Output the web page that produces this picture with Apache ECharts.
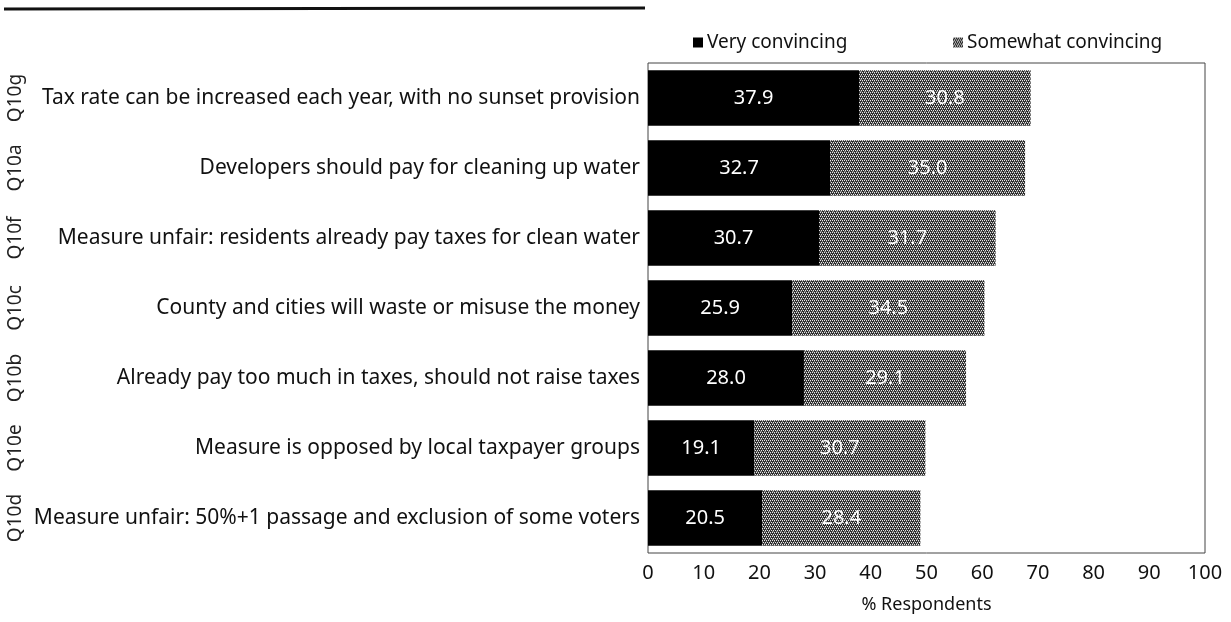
<!DOCTYPE html>
<html>
<head>
<meta charset="utf-8">
<script src="https://cdn.jsdelivr.net/npm/echarts@6/dist/echarts.min.js"></script>
<style>
  html, body { margin: 0; padding: 0; background: #fff; }
  #chart { width: 1231px; height: 622px; }
</style>
</head>
<body>
<div id="chart"></div>
<script>
// Question codes and statement texts, listed top to bottom
const codes = ['Q10g', 'Q10a', 'Q10f', 'Q10c', 'Q10b', 'Q10e', 'Q10d'];
const statements = [
  'Tax rate can be increased each year, with no sunset provision',
  'Developers should pay for cleaning up water',
  'Measure unfair: residents already pay taxes for clean water',
  'County and cities will waste or misuse the money',
  'Already pay too much in taxes, should not raise taxes',
  'Measure is opposed by local taxpayer groups',
  'Measure unfair: 50%+1 passage and exclusion of some voters'
];
const veryConvincing = [37.9, 32.7, 30.7, 25.9, 28.0, 19.1, 20.5];
const somewhatConvincing = [30.8, 35.0, 31.7, 34.5, 29.1, 30.7, 28.4];
const xTicks = [0, 10, 20, 30, 40, 50, 60, 70, 80, 90, 100];

const FONT = '"Noto Sans", "Open Sans", sans-serif';

// Dithered grey fill for the "somewhat" segments
function ditherPattern() {
  const c = document.createElement('canvas');
  c.width = 4; c.height = 4;
  const ctx = c.getContext('2d');
  ctx.fillStyle = '#2e2e2e';
  ctx.fillRect(0, 0, 4, 4);
  ctx.fillStyle = '#e8e8e8';
  ctx.fillRect(0, 0, 1, 1);
  ctx.fillRect(2, 0, 1, 1);
  ctx.fillRect(1, 2, 1, 1);
  ctx.fillRect(3, 2, 1, 1);
  ctx.fillStyle = '#7a7a7a';
  ctx.fillRect(2, 1, 1, 1);
  ctx.fillRect(0, 3, 1, 1);
  ctx.fillRect(1, 3, 1, 1);
  return c;
}
const grey = { image: ditherPattern(), repeat: 'repeat' };

const chart = echarts.init(document.getElementById('chart'), null, { renderer: 'canvas' });

const labelStyle = {
  show: true,
  position: 'inside',
  color: '#fff',
  fontFamily: FONT,
  fontSize: 20,
  formatter: p => p.value.toFixed(1)
};

const legendCommon = {
  top: 28,
  itemWidth: 10,
  itemHeight: 10,
  icon: 'rect',
  textStyle: { fontFamily: FONT, fontSize: 19, color: '#111', padding: [0, 0, 0, -1] }
};

chart.setOption({
  animation: false,
  backgroundColor: '#fff',
  textStyle: { fontFamily: FONT },
  graphic: [{
    type: 'line',
    shape: { x1: 4, y1: 9, x2: 645, y2: 8 },
    style: { stroke: '#111', lineWidth: 3 }
  }],
  legend: [
    Object.assign({ left: 688, data: ['Very convincing'] }, legendCommon),
    Object.assign({ left: 948, data: ['Somewhat convincing'] }, legendCommon)
  ],
  grid: {
    left: 648, right: 26, top: 63, bottom: 69,
    show: true,
    borderColor: '#444',
    borderWidth: 1,
    containLabel: false
  },
  xAxis: {
    type: 'value',
    min: xTicks[0],
    max: xTicks[xTicks.length - 1],
    interval: 10,
    name: '% Respondents',
    nameLocation: 'middle',
    nameGap: 43,
    nameTextStyle: { fontFamily: FONT, fontSize: 18, color: '#111' },
    axisLine: { show: false },
    axisTick: { show: false },
    splitLine: { show: false },
    axisLabel: { fontFamily: FONT, fontSize: 20, color: '#111', margin: 10 }
  },
  yAxis: [{
    type: 'category',
    data: statements,
    inverse: true,
    axisLine: { show: false },
    axisTick: { show: false },
    axisLabel: { fontFamily: FONT, fontSize: 21, color: '#111', margin: 8 }
  }, {
    type: 'category',
    data: codes,
    inverse: true,
    position: 'left',
    offset: 632,
    axisLine: { show: false },
    axisTick: { show: false },
    axisLabel: { rotate: 90, fontFamily: FONT, fontSize: 19, color: '#222', margin: 0, align: 'center', verticalAlign: 'middle' }
  }],
  series: [{
    name: 'Very convincing',
    type: 'bar',
    stack: 'total',
    data: veryConvincing,
    barCategoryGap: '21%',
    itemStyle: { color: '#000' },
    label: labelStyle
  }, {
    name: 'Somewhat convincing',
    type: 'bar',
    stack: 'total',
    data: somewhatConvincing,
    barCategoryGap: '21%',
    itemStyle: { color: grey },
    label: labelStyle
  }]
});
</script>
</body>
</html>
